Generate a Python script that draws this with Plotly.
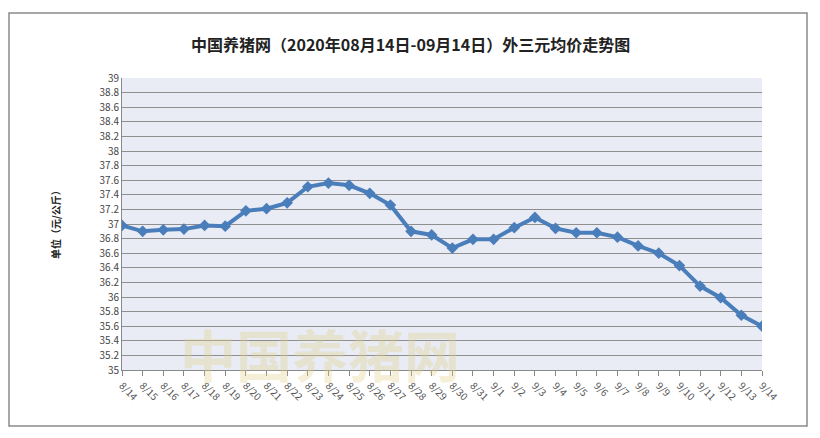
import plotly.graph_objects as go

dates = ["8/14","8/15","8/16","8/17","8/18","8/19","8/20","8/21","8/22","8/23","8/24",
         "8/25","8/26","8/27","8/28","8/29","8/30","8/31","9/1","9/2","9/3","9/4",
         "9/5","9/6","9/7","9/8","9/9","9/10","9/11","9/12","9/13","9/14"]
prices = [36.98, 36.90, 36.92, 36.93, 36.98, 36.97, 37.18, 37.21, 37.29, 37.51, 37.56,
          37.53, 37.42, 37.26, 36.90, 36.85, 36.67, 36.79, 36.79, 36.95, 37.09, 36.94,
          36.88, 36.88, 36.82, 36.70, 36.60, 36.43, 36.15, 35.99, 35.75, 35.60]

title = "中国养猪网（2020年08月14日-09月14日）外三元均价走势图"
y_title = "单位（元/公斤）"

OFF = 8  # page body margin
W, H = 820 - OFF, 438 - OFF
L, T = 122 - OFF, 78 - OFF
pw, ph = 640, 292
R, B = W - L - pw, H - T - ph

def px(x):
    return (x - OFF - L) / pw

def py(y):
    return 1 - (y - OFF - T) / ph

fig = go.Figure()
fig.add_trace(go.Scatter(
    x=dates, y=prices, mode="lines+markers",
    line=dict(color="#4A7EBB", width=4),
    marker=dict(symbol="diamond", size=9, color="#4A7EBB"),
    hoverinfo="skip", showlegend=False,
))

fig.update_layout(
    width=W, height=H, autosize=False,
    margin=dict(l=L, r=R, t=T, b=B),
    paper_bgcolor="white",
    plot_bgcolor="#E9EBF5",
    font=dict(family="Noto Sans CJK SC, DejaVu Sans, sans-serif", color="#333"),
    xaxis=dict(
        type="category", range=[0, len(dates) - 1],
        showgrid=False, zeroline=False,
        showline=True, linecolor="#888", linewidth=1,
        ticks="outside", ticklen=5, tickcolor="#888",
        tickangle=45, tickfont=dict(size=10, color="#555"),
    ),
    yaxis=dict(
        range=[35, 39], dtick=0.2, tick0=35,
        showgrid=True, gridcolor="#8E8E8E", gridwidth=1,
        zeroline=False,
        showline=True, linecolor="#888", linewidth=1,
        ticks="", tickfont=dict(size=10, color="#444"),
    ),
    shapes=[
        dict(type="rect", xref="paper", yref="paper",
             x0=px(9), x1=px(807), y0=py(426), y1=py(13),
             line=dict(color="#8A8A8A", width=1.5), fillcolor="rgba(0,0,0,0)", layer="below"),
    ],
    annotations=[
        dict(text="<b>" + title + "</b>", xref="paper", yref="paper",
             x=px(410), y=py(44), xanchor="center", yanchor="middle", showarrow=False,
             font=dict(size=16, color="#222")),
        dict(text="<b>" + y_title + "</b>", xref="paper", yref="paper",
             x=px(55), y=py(222), xanchor="center", yanchor="middle", showarrow=False,
             textangle=-90, font=dict(size=10, color="#222")),
        dict(text="<b>中国养猪网</b>", xref="paper", yref="paper",
             x=px(320), y=py(352), xanchor="center", yanchor="middle", showarrow=False,
             font=dict(size=56, color="rgba(225,210,140,0.35)")),
    ],
)

fig.write_html("out.html")
